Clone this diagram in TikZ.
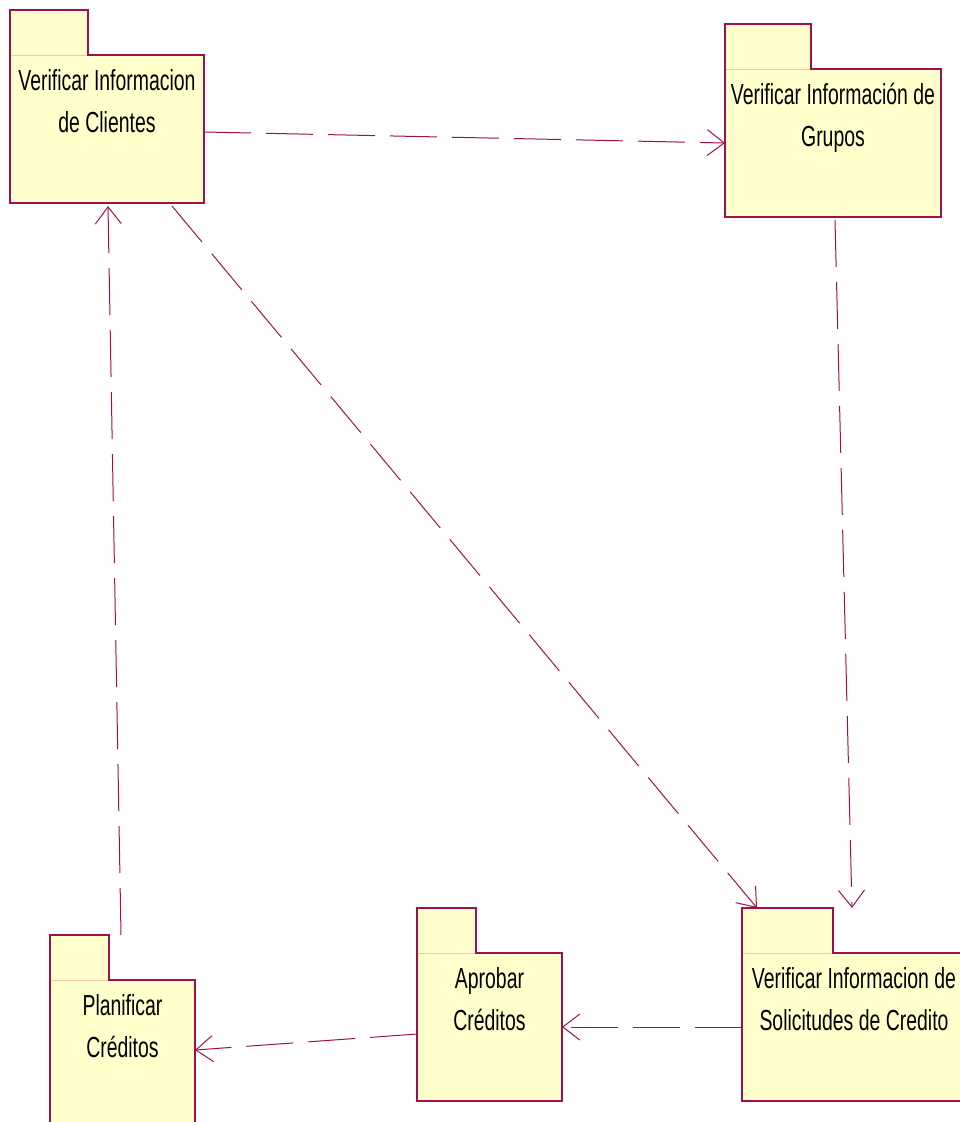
\documentclass[tikz,border=0pt]{standalone}
\usepackage{fontspec}
\newfontfamily\pkgfont[FakeStretch=0.67]{Liberation Sans}
\usetikzlibrary{arrows.meta,calc}
\definecolor{pkgline}{RGB}{160,16,80}
\definecolor{pkgfill}{RGB}{255,255,204}
\definecolor{pkgsep}{RGB}{240,200,170}
\tikzset{
  pkgbody/.style={rectangle,fill=pkgfill,inner sep=0pt,outer sep=0pt,minimum height=148pt},
  pkgtab/.style={rectangle,fill=pkgfill,inner sep=0pt,outer sep=0pt,minimum height=45pt},
  pkgedge/.style={draw=pkgline,line width=1.1pt,line join=miter},
  sepline/.style={draw=pkgsep,line width=0.8pt},
  pkglabel/.style={inner sep=0pt,align=center,font=\pkgfont\fontsize{29}{42}\selectfont,text=black},
  dep/.style={draw=pkgline,line width=1pt,dash pattern=on 47pt off 15pt,-{Straight Barb[length=17pt,width=26pt]}}
}
\newcommand\pkgdraw[6]{%
  \node[pkgtab,minimum width=#5pt,anchor=south west] (#1tab) at (#2,#3) {};
  \node[pkgbody,minimum width=#4pt,anchor=north west] (#1) at (#2,#3) {};
  \draw[sepline] (#1tab.south west) -- (#1tab.south east);
  \draw[pkgedge] (#1tab.south west) -- (#1tab.north west) -- (#1tab.north east) -- (#1tab.south east) -- (#1.north east) -- (#1.south east) -- (#1.south west) -- cycle;
  \node[pkglabel,anchor=north] (#1lbl) at ($(#1.north)+(0,14)$) {#6};
}
\begin{document}
\begin{tikzpicture}[x=1pt,y=-1pt]
\useasboundingbox (0,0) rectangle (959,1122);
\pkgdraw{c1}{10}{55}{194}{78}{Verificar Informacion\\de Clientes}
\pkgdraw{c2}{725}{69}{216}{86}{Verificar Información de\\Grupos}
\pkgdraw{c3}{742}{953}{224}{91}{Verificar Informacion de\\Solicitudes de Credito}
\pkgdraw{c4}{417}{953}{145}{59}{Aprobar\\Créditos}
\pkgdraw{c5}{50}{980}{145}{59}{Planificar\\Créditos}
\draw[dep] ($(c1.east)+(0,3)$) -- (c2.west);
\draw[dep] ($(c1.south east)+(-32,3)$) -- ($(c3tab.north west)+(15,0)$);
\draw[dep] ($(c2.south)+(2,3)$) -- ($(c3.north)+(-2,-45)$);
\draw[dep] (c3.west) -- (c4.east);
\draw[dep] ($(c4.west)+(0,7)$) -- ($(c5.east)+(0,-4)$);
\draw[dep] ($(c5tab.north east)+(12,0)$) -- ($(c1.south)+(1,3)$);
\end{tikzpicture}
\end{document}
